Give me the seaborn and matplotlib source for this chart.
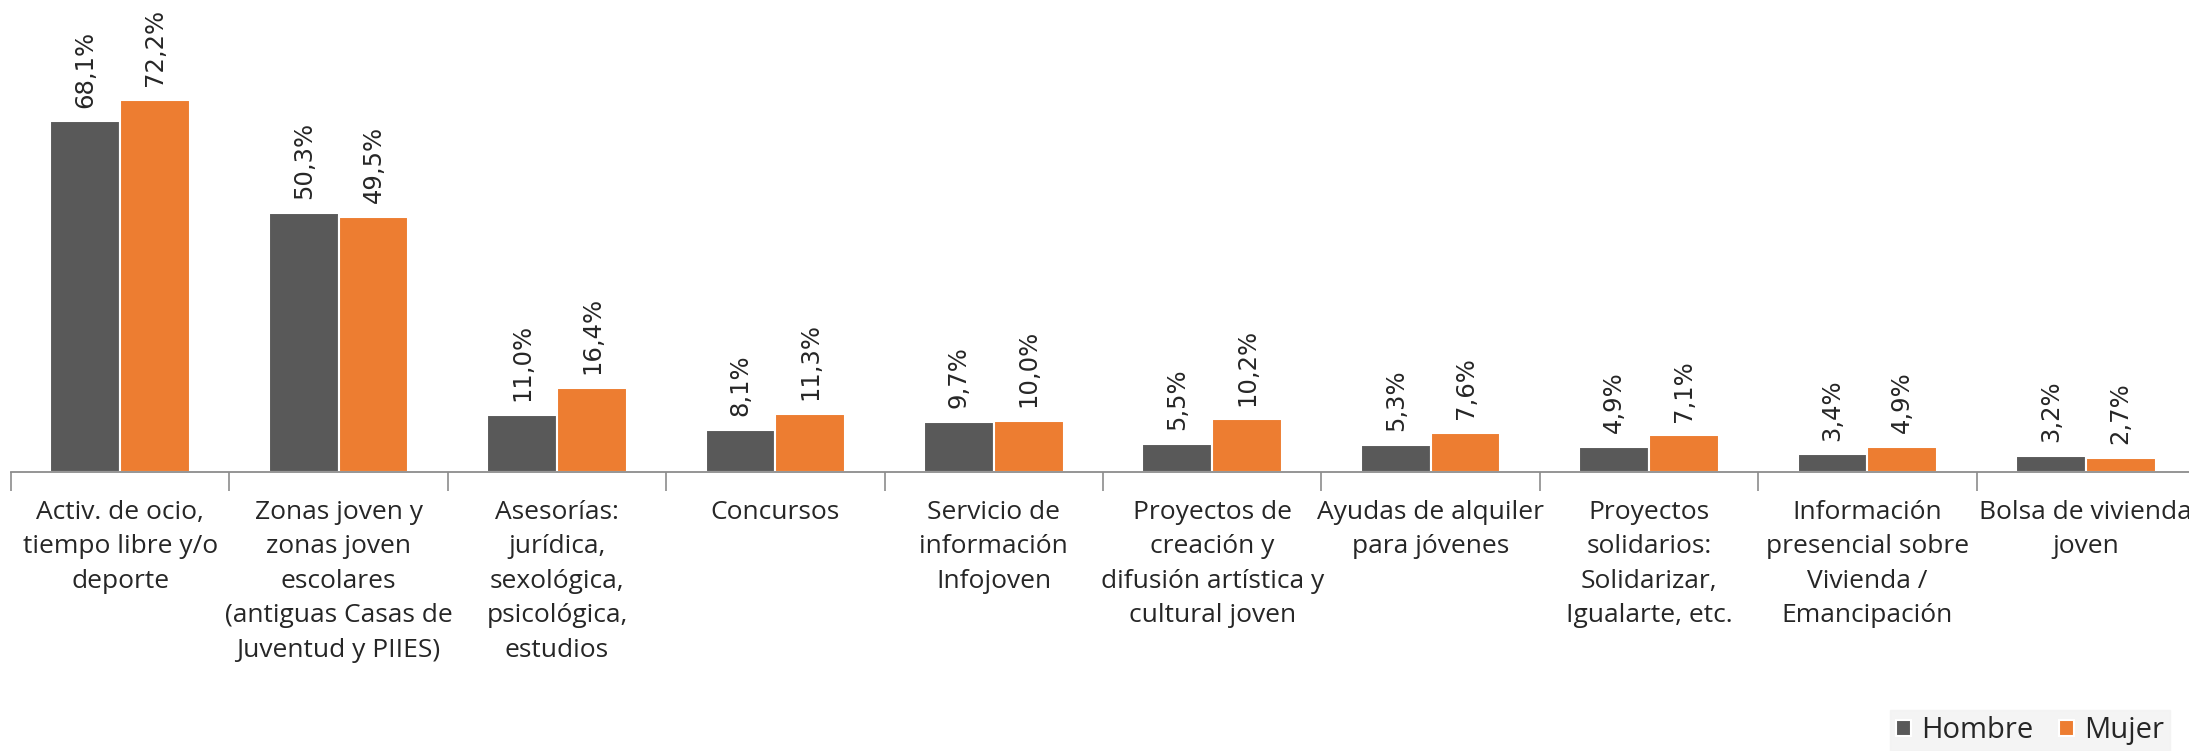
import matplotlib
matplotlib.use("Agg")
import matplotlib.pyplot as plt
import seaborn as sns
import pandas as pd
from matplotlib import font_manager
from matplotlib.ticker import FixedLocator

categorias = [
    "Activ. de ocio,\ntiempo libre y/o\ndeporte",
    "Zonas joven y\nzonas joven\nescolares\n(antiguas Casas de\nJuventud y PIIES)",
    "Asesorías:\njurídica,\nsexológica,\npsicológica,\nestudios",
    "Concursos",
    "Servicio de\ninformación\nInfojoven",
    "Proyectos de\ncreación y\ndifusión artística y\ncultural joven",
    "Ayudas de alquiler\npara jóvenes",
    "Proyectos\nsolidarios:\nSolidarizar,\nIgualarte, etc.",
    "Información\npresencial sobre\nVivienda /\nEmancipación",
    "Bolsa de vivienda\njoven",
]
hombre = [68.1, 50.3, 11.0, 8.1, 9.7, 5.5, 5.3, 4.9, 3.4, 3.2]
mujer = [72.2, 49.5, 16.4, 11.3, 10.0, 10.2, 7.6, 7.1, 4.9, 2.7]
series = ["Hombre", "Mujer"]
colores = ["#595959", "#ED7D31"]

df = pd.DataFrame({
    "categoria": categorias * 2,
    "valor": hombre + mujer,
    "sexo": [series[0]] * len(hombre) + [series[1]] * len(mujer),
})

sns.set_theme(style="white")
names = {f.name for f in font_manager.fontManager.ttflist}
narrow = "Liberation Sans Narrow" if "Liberation Sans Narrow" in names else "Open Sans"
plt.rcParams["font.family"] = ["DejaVu Sans"]

fig = plt.figure(figsize=(21.89, 7.51), dpi=100)
ax = fig.add_axes([11 / 2189, 279 / 751, 2184 / 2189, 472 / 751])

sns.barplot(data=df, x="categoria", y="valor", hue="sexo", palette=colores,
            saturation=1, width=0.64, edgecolor="white", linewidth=1.5, ax=ax, legend=True)

for cont, vals in zip(ax.containers, [hombre, mujer]):
    etiquetas = [f"{v:.1f}%".replace(".", ",") for v in vals]
    ax.bar_label(cont, labels=etiquetas, rotation=90, padding=10,
                 fontsize=17.5, color="#262626")

ax.set_ylim(0, 91.7)
ax.set_xlim(-0.5, len(categorias) - 0.5)
ax.set_xlabel("")
ax.set_ylabel("")
ax.set_yticks([])
for s in ["top", "right", "left"]:
    ax.spines[s].set_visible(False)
ax.spines["bottom"].set_color("#8C8C8C")
ax.spines["bottom"].set_linewidth(1.3)

ax.tick_params(axis="x", which="major", length=0, pad=20)
ax.xaxis.set_minor_locator(FixedLocator([i - 0.5 for i in range(len(categorias) + 1)]))
ax.tick_params(axis="x", which="minor", length=14, width=1.2, color="#8C8C8C", bottom=True)
for t in ax.get_xticklabels():
    t.set_fontfamily([narrow, "DejaVu Sans"])
    t.set_fontsize(19)
    t.set_color("#262626")
    t.set_linespacing(1.5)

h, l = ax.get_legend_handles_labels()
leg = ax.legend(h, l, loc="lower right", bbox_to_anchor=(2170 / 2189, 0), bbox_transform=fig.transFigure,
                ncol=2, frameon=True, facecolor="#F2F2F2", edgecolor="#F2F2F2", fancybox=False,
                prop={"family": [narrow, "DejaVu Sans"], "size": 21},
                handlelength=0.5, handleheight=0.5, handletextpad=0.35, columnspacing=0.9,
                borderpad=0.2, borderaxespad=0)
for t in leg.get_texts():
    t.set_color("#262626")

fig.savefig("out.png", dpi=100)
